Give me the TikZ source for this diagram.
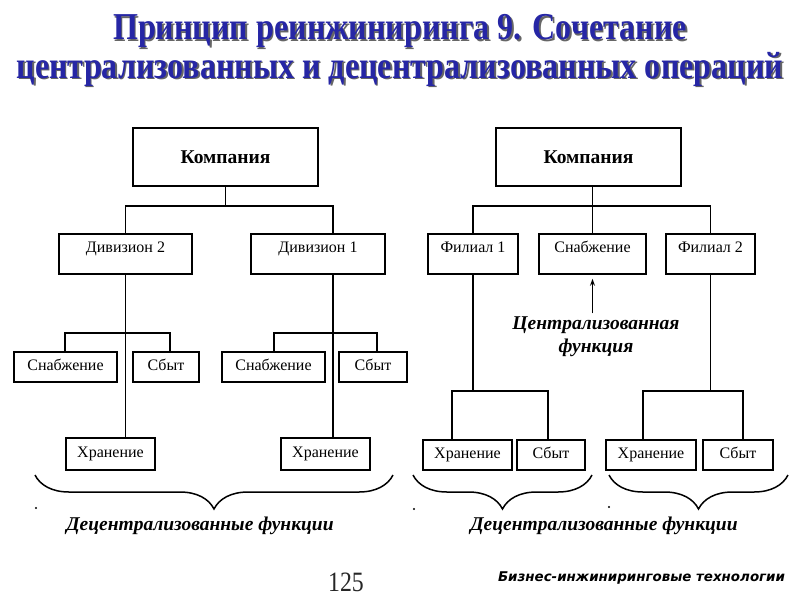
\documentclass[tikz,border=0pt]{standalone}
\usepackage{fontspec}
\setmainfont{Liberation Serif}
\newfontfamily\footsans{DejaVu Sans}
\usepackage{graphicx}
\usetikzlibrary{arrows.meta,decorations.pathreplacing}
\definecolor{ttlblue}{RGB}{38,38,165}

\tikzset{
    box/.style={draw, line width=1.6pt, inner sep=0pt,
        font=\fontsize{16}{18}\selectfont},
    bigbox/.style={box, minimum width=185pt, minimum height=58pt,
        font=\fontsize{19.5}{20}\selectfont\bfseries},
    divbox/.style={box, minimum height=40pt, text height=11pt, text depth=15pt},
    lowbox/.style={box, minimum height=30pt, text height=11pt, text depth=3.5pt},
    conn/.style={line width=1.6pt},
    ttl/.style={font=\fontsize{38}{40}\selectfont\bfseries},
    note/.style={font=\fontsize{19.5}{23}\selectfont\bfseries\itshape, align=center},
    curly/.style={line width=1.5pt, decorate,
        decoration={brace, mirror, amplitude=34pt}},
}

\begin{document}
\begin{tikzpicture}[x=1pt, y=-1pt]
\useasboundingbox (0,0) rectangle (800,600);

% title with shadow
\node[ttl, text=black!60] (ttlAs) at (401.5,32.5) {\scalebox{0.845}[1]{Принцип реинжиниринга 9. Сочетание}};
\node[ttl, text=ttlblue] (ttlA) at (400,31) {\scalebox{0.845}[1]{Принцип реинжиниринга 9. Сочетание}};
\node[ttl, text=black!60] (ttlBs) at (401.5,70.5) {\scalebox{0.845}[1]{централизованных и децентрализованных операций}};
\node[ttl, text=ttlblue] (ttlB) at (400,69) {\scalebox{0.845}[1]{централизованных и децентрализованных операций}};

% left tree
\node[bigbox] (kompL) at (225.5,157) {Компания};
\node[divbox, minimum width=133pt] (div2) at (125.5,254) {Дивизион 2};
\node[divbox, minimum width=134pt] (div1) at (318,254) {Дивизион 1};
\node[lowbox, minimum width=103pt] (snabA) at (65.5,367) {Снабжение};
\node[lowbox, minimum width=66pt] (sbytA) at (166,367) {Сбыт};
\node[lowbox, minimum width=89pt, minimum height=32pt] (hranA) at (110.5,454) {Хранение};
\node[lowbox, minimum width=103pt] (snabB) at (273.5,367) {Снабжение};
\node[lowbox, minimum width=68pt] (sbytB) at (373,367) {Сбыт};
\node[lowbox, minimum width=89pt, minimum height=32pt] (hranB) at (325.5,454) {Хранение};

\coordinate (busL) at (225.5,206);
\coordinate (tr1) at (333,0);
\coordinate (aA) at (65,333);
\coordinate (bA) at (170,333);
\coordinate (aB) at (274,333);
\coordinate (bB) at (377,333);

\begin{scope}[conn]
    \draw (kompL.south) -- (busL);
    \draw (div2.north) |- (busL) -| (tr1 |- div1.north);
    \draw (div2.south) -- (div2.south |- hranA.north);
    \draw (tr1 |- div1.south) -- (tr1 |- hranB.north);
    \draw (aA |- snabA.north) -- (aA) -- (bA) -- (bA |- sbytA.north);
    \draw (aB |- snabB.north) -- (aB) -- (bB) -- (bB |- sbytB.north);
\end{scope}

% right tree
\node[bigbox] (kompR) at (588.5,157) {Компания};
\node[divbox, minimum width=90pt] (fil1) at (473,254) {Филиал 1};
\node[divbox, minimum width=107pt] (snabR) at (592.5,254) {Снабжение};
\node[divbox, minimum width=89pt] (fil2) at (710.5,254) {Филиал 2};
\node[lowbox, minimum width=89pt] (hranC) at (467.5,455) {Хранение};
\node[lowbox, minimum width=68pt] (sbytC) at (551,455) {Сбыт};
\node[lowbox, minimum width=90pt] (hranD) at (651,455) {Хранение};
\node[lowbox, minimum width=70pt] (sbytD) at (738,455) {Сбыт};

\coordinate (busR) at (592.5,206);
\coordinate (aC) at (452,391);
\coordinate (bC) at (548,391);
\coordinate (aD) at (643,391);
\coordinate (bD) at (743,391);

\begin{scope}[conn]
    \draw (snabR.north) -- (snabR.north |- kompR.south);
    \draw (fil1.north) |- (busR) -| (fil2.north);
    \draw (fil1.south) -- (fil1.south |- aC);
    \draw (fil2.south) -- (fil2.south |- aD);
    \draw (aC |- hranC.north) -- (aC) -- (bC) -- (bC |- sbytC.north);
    \draw (aD |- hranD.north) -- (aD) -- (bD) -- (bD |- sbytD.north);
\end{scope}

\node[note] (cfun) at (596,337) {Централизованная\\функция};
\draw[line width=1.4pt, -{Stealth[length=7pt,width=5pt]}, shorten >=4pt]
    (cfun.north -| snabR.south) -- (snabR.south);

% braces
\coordinate (brA) at (35,475);
\coordinate (brB) at (393,475);
\coordinate (brC) at (413,475);
\coordinate (brD) at (592,475);
\coordinate (brE) at (609,475);
\coordinate (brF) at (788,475);
\draw[curly] (brA) -- (brB);
\draw[curly] (brC) -- (brD);
\draw[curly] (brE) -- (brF);
\fill (36,508) circle (1.2pt);
\fill (414,509) circle (1.2pt);
\fill (609,507) circle (1.2pt);

\node[note] (decL) at (200,526) {Децентрализованные функции};
\node[note] (decR) at (604,526) {Децентрализованные функции};

% footer
\node[font=\fontsize{28}{28}\selectfont, text=black!85] (page) at (346,582) {\scalebox{0.85}[1]{125}};
\node[font=\footsans\fontsize{11}{12}\selectfont\bfseries\itshape] (firm) at (641.5,578)
    {\resizebox{287pt}{!}{Бизнес-инжиниринговые технологии}};
\end{tikzpicture}
\end{document}
